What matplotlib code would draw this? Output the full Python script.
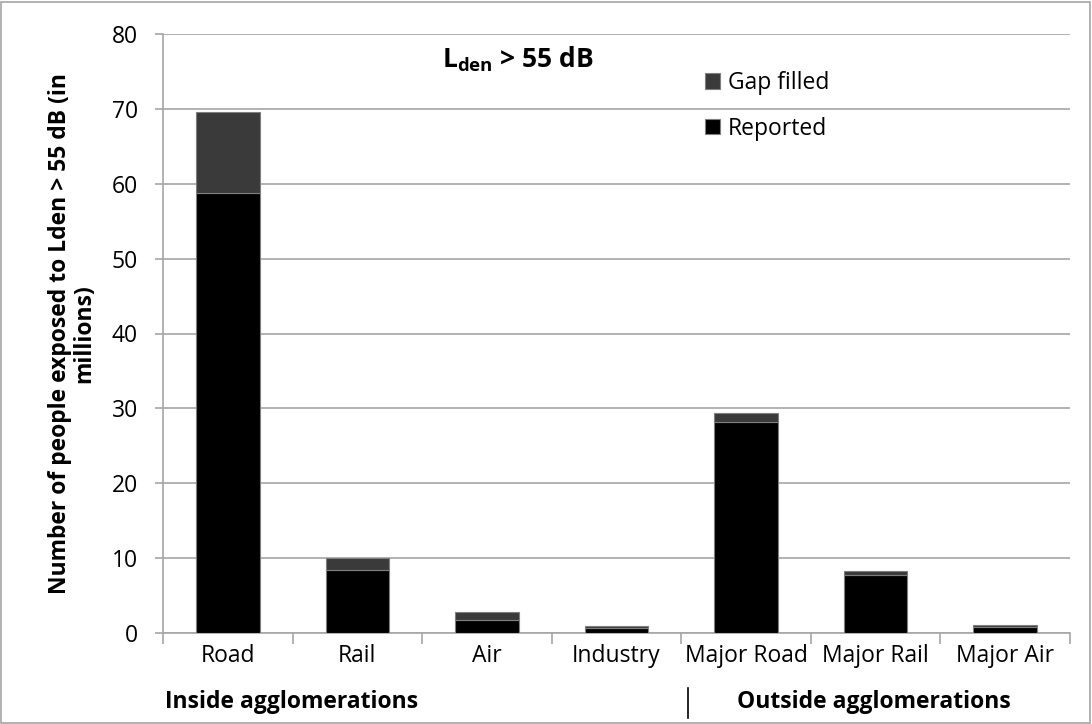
import matplotlib
matplotlib.use("Agg")
import matplotlib.pyplot as plt
from matplotlib.patches import Rectangle
from matplotlib.lines import Line2D

plt.rcParams['font.family'] = ['Open Sans', 'DejaVu Sans']
plt.rcParams['mathtext.fontset'] = 'custom'
plt.rcParams['mathtext.rm'] = 'Open Sans'
plt.rcParams['mathtext.bf'] = 'Open Sans:bold'

categories = ["Road", "Rail", "Air", "Industry", "Major Road", "Major Rail", "Major Air"]
reported = [58.7, 8.4, 1.8, 0.7, 28.2, 7.7, 0.8]
gap_filled = [10.9, 1.6, 1.0, 0.25, 1.2, 0.6, 0.25]
yticks = [0, 10, 20, 30, 40, 50, 60, 70, 80]

W, H = 1092, 724
FS = 16.5
fig = plt.figure(figsize=(W/100, H/100), dpi=100)
ax = fig.add_axes([163/W, 1-633/H, (1070-163)/W, (633-34)/H])

x = list(range(len(categories)))
ax.bar(x, reported, width=0.49, color='#000000', edgecolor='#7f7f7f', linewidth=0.8, zorder=3, label='Reported')
ax.bar(x, gap_filled, bottom=reported, width=0.49, color='#3a3a3a', edgecolor='#7f7f7f', linewidth=0.8, zorder=3, label='Gap filled')

ax.set_xlim(-0.5, len(categories)-0.5)
ax.set_ylim(0, 80)
ax.set_yticks(yticks)
ax.yaxis.grid(True, color='#a6a6a6', linewidth=1.2, zorder=0)
for s in ['top', 'right']:
    ax.spines[s].set_visible(False)
for s in ['left', 'bottom']:
    ax.spines[s].set_color('#a6a6a6')
    ax.spines[s].set_linewidth(1.2)

ax.set_xticks(x)
ax.set_xticklabels(categories, fontsize=FS)
ax.tick_params(axis='x', length=0, pad=8)
ax.set_xticks([i - 0.5 for i in range(len(categories)+1)], minor=True)
ax.tick_params(axis='x', which='minor', length=8, color='#a6a6a6', width=1.2)
ax.tick_params(axis='y', length=6, color='#a6a6a6', width=1.2, labelsize=FS, pad=12)

ax.set_ylabel("Number of people exposed to Lden > 55 dB (in\nmillions)", fontsize=FS, fontweight='bold', labelpad=11, linespacing=1.05)

fig.text(518/W, 1-67/H, r"$\mathbf{L_{den}}$ > 55 dB", fontsize=19, fontweight='bold', ha='center', va='baseline')

h, l = ax.get_legend_handles_labels()
ax.legend(h[::-1], l[::-1], loc='upper left', bbox_to_anchor=(705/W, 1-71/H), bbox_transform=fig.transFigure,
          frameon=False, fontsize=FS, handlelength=0.65, handleheight=0.65, handletextpad=0.35, labelspacing=0.95,
          borderaxespad=0, borderpad=0)

fig.text(292/W, 1-702/H, "Inside agglomerations", fontsize=FS, fontweight='bold', ha='center', va='center')
fig.text(874/W, 1-702/H, "Outside agglomerations", fontsize=FS, fontweight='bold', ha='center', va='center')
fig.add_artist(Line2D([688/W, 688/W], [1-688/H, 1-718/H], color='black', linewidth=1.2, transform=fig.transFigure))

fig.add_artist(Rectangle((1/W, 1/H), (W-3)/W, (H-3)/H, fill=False, edgecolor='#a6a6a6', linewidth=1.2, transform=fig.transFigure))

fig.savefig("out.png", dpi=100)
